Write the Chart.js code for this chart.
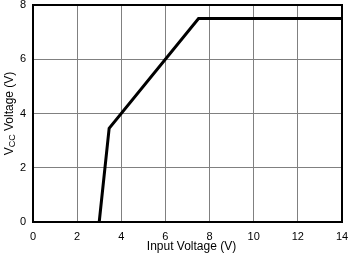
<!DOCTYPE html>
<html>
<head>
<meta charset="utf-8">
<script src="https://cdn.jsdelivr.net/npm/chart.js@4/dist/chart.umd.min.js"></script>
<style>
  html, body { margin: 0; padding: 0; background: #fff; }
  #wrap { width: 350px; height: 255px; position: relative; }
</style>
</head>
<body>
<div id="wrap"><canvas id="c" width="350" height="255"></canvas></div>
<script>
// curve
const inputV = [3.0, 3.45, 7.5, 14];
const vccV = [0, 3.45, 7.5, 7.5];

const xTicks = [0, 2, 4, 6, 8, 10, 12, 14];
const yTicks = [0, 2, 4, 6, 8];

const FONT = 'Liberation Sans, Arial, Helvetica, sans-serif';

// frame + axis titles (y title needs the CC subscript)
const frame = {
  id: 'frame',
  afterDatasetsDraw(chart) {
    const { ctx, chartArea: a } = chart;
    ctx.save();
    ctx.strokeStyle = '#000';
    ctx.lineWidth = 2;
    ctx.strokeRect(a.left, a.top, a.right - a.left, a.bottom - a.top);
    ctx.restore();
  },
  afterDraw(chart) {
    const { ctx, chartArea: a } = chart;
    ctx.save();
    ctx.fillStyle = '#000';
    ctx.font = '12px ' + FONT;
    ctx.textAlign = 'center';
    ctx.textBaseline = 'middle';
    ctx.fillText('Input Voltage (V)', (a.left + a.right) / 2 + 4, 247);

    // rotated y title
    ctx.translate(10, (a.top + a.bottom) / 2);
    ctx.rotate(-Math.PI / 2);
    ctx.textAlign = 'left';
    ctx.textBaseline = 'middle';
    const big = '12px ' + FONT, small = '9px ' + FONT;
    ctx.font = big;
    const wV = ctx.measureText('V').width;
    const wRest = ctx.measureText(' Voltage (V)').width;
    ctx.font = small;
    const wCC = ctx.measureText('CC').width;
    let x = -(wV + wCC + wRest) / 2;
    ctx.font = big;
    ctx.fillText('V', x, 0);
    x += wV;
    ctx.font = small;
    ctx.fillText('CC', x, 3);
    x += wCC;
    ctx.font = big;
    ctx.fillText(' Voltage (V)', x, 0);
    ctx.restore();
  }
};

new Chart(document.getElementById('c'), {
  type: 'scatter',
  data: {
    datasets: [{
      data: inputV.map((v, i) => ({ x: v, y: vccV[i] })),
      showLine: true,
      borderColor: '#000',
      borderWidth: 3,
      pointRadius: 0,
      tension: 0,
      clip: 4
    }]
  },
  options: {
    responsive: false,
    animation: false,
    layout: { padding: { top: 5, right: 8, left: 0, bottom: 0 } },
    plugins: { legend: { display: false }, tooltip: { enabled: false } },
    scales: {
      x: {
        type: 'linear',
        min: 0, max: 14,
        afterFit: s => { s.height = 33; s.paddingLeft = 0; s.paddingRight = 0; },
        afterBuildTicks: s => { s.ticks = xTicks.map(v => ({ value: v })); },
        grid: { color: '#808080', lineWidth: 1, drawTicks: false },
        border: { display: false },
        ticks: { color: '#000', font: { family: FONT, size: 11 }, padding: 8, maxRotation: 0 }
      },
      y: {
        min: 0, max: 8,
        afterFit: s => { s.width = 33; s.paddingTop = 0; s.paddingBottom = 0; },
        afterBuildTicks: s => { s.ticks = yTicks.map(v => ({ value: v })); },
        grid: { color: '#808080', lineWidth: 1, drawTicks: false },
        border: { display: false },
        ticks: { color: '#000', font: { family: FONT, size: 11 }, padding: 7 }
      }
    }
  },
  plugins: [frame]
});
</script>
</body>
</html>
